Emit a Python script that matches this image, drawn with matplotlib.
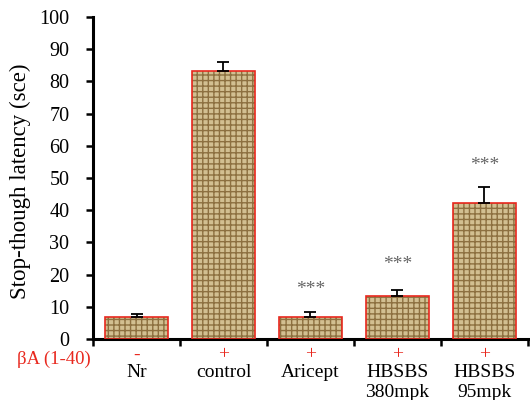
import matplotlib
matplotlib.use("Agg")
import matplotlib.pyplot as plt
import numpy as np

categories = ["Nr", "control", "Aricept", "HBSBS\n380mpk", "HBSBS\n95mpk"]
signs = ["-", "+", "+", "+", "+"]
values = [6.8, 83.3, 6.7, 13.4, 42.2]
errors = [1.0, 2.8, 1.8, 1.8, 5.0]
stars = ["", "", "***", "***", "***"]
star_pos = [0, 0, 15.5, 23.0, 54.0]
yticks = [0, 10, 20, 30, 40, 50, 60, 70, 80, 90, 100]

plt.rcParams['font.family'] = ['Liberation Serif', 'DejaVu Serif']

fig = plt.figure(figsize=(5.3, 4.0), dpi=100)
ax = fig.add_axes([0.1755, 0.1525, 0.8205, 0.805])

x = np.arange(len(categories))
w = 0.72
ax.bar(x, values, width=w, color="#d2bf91", edgecolor="#8d7040", hatch="+++", linewidth=0, zorder=2)
ax.bar(x, values, width=w, fill=False, edgecolor="#e8281e", linewidth=1.2, zorder=3)
ax.errorbar(x, values, yerr=[np.zeros(len(values)), errors], fmt="none", ecolor="black",
            elinewidth=1.3, capsize=4.5, capthick=1.3, zorder=4)

for xi, s, sp in zip(x, stars, star_pos):
    if s:
        ax.text(xi, sp, s, ha="center", va="center", fontsize=14, color="#666666")

ax.set_xlim(-0.5, len(categories) - 0.5)
ax.set_ylim(0, 100)
ax.set_yticks(yticks)
ax.set_yticklabels([str(t) for t in yticks], fontsize=14.5)
ax.set_xticks(np.arange(len(categories) + 1) - 0.5)
ax.set_xticklabels([])
ax.tick_params(axis='y', direction='out', length=5, width=1.8, pad=12)
ax.tick_params(axis='x', direction='out', length=5, width=1.8)

for sp in ["top", "right"]:
    ax.spines[sp].set_visible(False)
ax.spines["left"].set_linewidth(2.2)
ax.spines["bottom"].set_linewidth(2.2)

trans = ax.get_xaxis_transform()
for xi, sg, c in zip(x, signs, categories):
    ax.text(xi, -0.05, sg, transform=trans, ha="center", va="center", fontsize=14, color="#e8281e")
    ax.text(xi, -0.078, c, transform=trans, ha="center", va="top", fontsize=14,
            color="black", linespacing=1.2)

fig.text(0.032, 0.102, "βA (1-40)", ha="left", va="center", fontsize=13.5, color="#e8281e")

ax.set_ylabel("Stop-though latency (sce)", fontsize=16.5)
ax.yaxis.set_label_coords(-0.143, 0.49)

fig.savefig("out.png", dpi=100)
